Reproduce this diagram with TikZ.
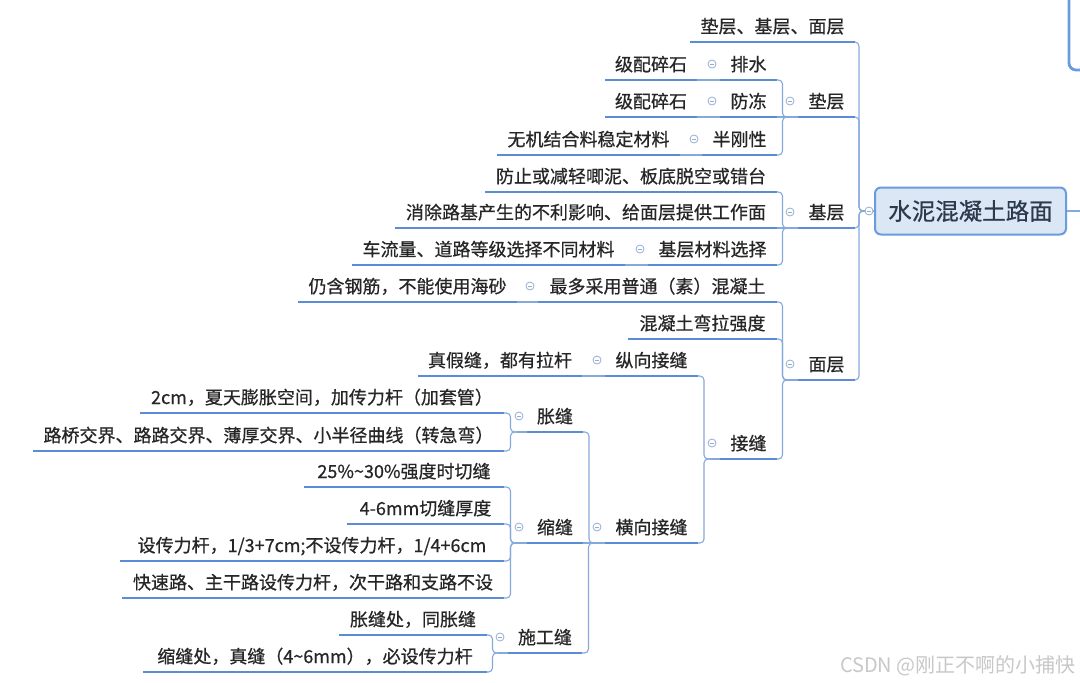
\documentclass[tikz,border=0pt]{standalone}
\usepackage{fontspec}
\setmainfont{Noto Sans CJK SC}[FakeBold=0.6]
\newfontfamily\wmfont{Noto Sans CJK SC}
\usetikzlibrary{calc}
\definecolor{txtc}{HTML}{262626}
\definecolor{ulc}{HTML}{5A8DD6}
\definecolor{conc}{HTML}{86A9DC}
\definecolor{foldcol}{HTML}{94AED2}
\definecolor{rootc}{HTML}{6A9BDD}
\definecolor{rootfill}{HTML}{DCE7F5}
\definecolor{roottxt}{HTML}{2B3A4C}
\definecolor{wmc}{HTML}{C8C8C8}
\newcommand\mmtopic[5]{%
  \coordinate (#1-l) at (#2,#4);
  \coordinate (#1-r) at (#3,#4);
  \coordinate (#1-j) at (#2-10,#4);
  \node[lbl] (#1) at ({(#2+#3)/2},{#4-9}) {#5};
  \draw[uline] (#1-l) -- (#1-r);}
\newcommand\mmlink[2]{\draw[conn,rounded corners=4pt] (#1-r) -| ($(#1-r)!0.5!(#2)$) |- (#2);}
\newcommand\mmslink[2]{\draw[conn] (#1-r) -- (#2);}
\newcommand\mmfold[1]{\node[foldc] at ($(#1-l)+(-8,-16)$) {};}
\begin{document}
\begin{tikzpicture}[x=1pt,y=-1pt,
  lbl/.style={anchor=base, inner sep=0pt, text=txtc, font=\fontsize{18pt}{20pt}\selectfont},
  uline/.style={draw=ulc, line width=2.7pt},
  conn/.style={draw=conc, line width=1.1pt},
  foldc/.style={circle, draw=foldcol, fill=white, line width=0.8pt, minimum size=8pt, inner sep=0pt,
    path picture={\draw[foldcol, line width=0.8pt] ([xshift=-2pt]path picture bounding box.center) -- ([xshift=2pt]path picture bounding box.center);}},
  rootbox/.style={draw=rootc, fill=rootfill, line width=2pt, rounded corners=6pt, inner sep=0pt,
    minimum width=191pt, minimum height=47pt, text=roottxt, font=\fontsize{23.5pt}{26pt}\selectfont}]
\useasboundingbox (0,0) rectangle (1080,683);
\clip (0,0) rectangle (1080,683);
\fill[white] (0,0) rectangle (1080,683);

% partial box at top right
\coordinate (pba) at (1069,-10);
\coordinate (pbb) at (1100,70);
\draw[draw=rootc, line width=2.8pt, rounded corners=7pt, fill=white] (pba) rectangle (pbb);

% root
\node[rootbox] (root) at (970.5,211) {水泥混凝土路面};
\coordinate (rout) at (1080,211);
\draw[conn] (root.east) -- (rout);
\coordinate (root-j) at (863,211);

% level 1
\mmtopic{t1}{690}{855}{42}{垫层、基层、面层}
\mmtopic{dc}{798}{855}{117}{垫层}
\mmtopic{jc}{798}{855}{228}{基层}
\mmtopic{mc}{798}{855}{380}{面层}

% 垫层
\mmtopic{ps}{720}{777}{80}{排水}
\mmtopic{gsa}{605}{697}{80}{级配碎石}
\mmtopic{fd}{720}{777}{117}{防冻}
\mmtopic{gsb}{605}{697}{117}{级配碎石}
\mmtopic{bgx}{702}{777}{155}{半刚性}
\mmtopic{wj}{497}{680}{155}{无机结合料稳定材料}

% 基层
\mmtopic{fz}{485}{777}{192}{防止或减轻唧泥、板底脱空或错台}
\mmtopic{xc}{395}{777}{228}{消除路基产生的不利影响、给面层提供工作面}
\mmtopic{jcxz}{648}{777}{265}{基层材料选择}
\mmtopic{cll}{352}{625}{265}{车流量、道路等级选择不同材料}

% 面层
\mmtopic{zd}{538}{777}{302}{最多采用普通（素）混凝土}
\mmtopic{rh}{298}{517}{302}{仍含钢筋，不能使用海砂}
\mmtopic{hnt}{628}{777}{339}{混凝土弯拉强度}
\mmtopic{jf}{720}{777}{459}{接缝}

% 接缝
\mmtopic{zx}{605}{698}{376}{纵向接缝}
\mmtopic{zj}{418}{582}{376}{真假缝，都有拉杆}
\mmtopic{hx}{605}{698}{543}{横向接缝}

% 横向接缝
\mmtopic{zf}{527}{583}{432}{胀缝}
\mmtopic{za}{140}{504}{413}{2cm，夏天膨胀空间，加传力杆（加套管）}
\mmtopic{zb}{33}{504}{451}{路桥交界、路路交界、薄厚交界、小半径曲线（转急弯）}
\mmtopic{ss}{527}{583}{543}{缩缝}
\mmtopic{sa}{304}{504}{487}{25\%\char"7E 30\%强度时切缝}
\mmtopic{sb}{347}{504}{524}{4-6mm切缝厚度}
\mmtopic{sc}{120}{504}{561}{设传力杆，1/3+7cm;不设传力杆，1/4+6cm}
\mmtopic{sd}{122}{504}{598}{快速路、主干路设传力杆，次干路和支路不设}
\mmtopic{sg}{508}{582}{653}{施工缝}
\mmtopic{ga}{339}{487}{635}{胀缝处，同胀缝}
\mmtopic{gb}{143}{487}{672}{缩缝处，真缝（4\char"7E 6mm），必设传力杆}

% connectors
\mmlink{t1}{root-j}
\mmlink{dc}{root-j}
\mmlink{jc}{root-j}
\mmlink{mc}{root-j}
\draw[conn] (root-j) -- (root.west);

\mmlink{ps}{dc-j}
\mmslink{fd}{dc-j}
\mmlink{bgx}{dc-j}
\draw[conn] (dc-j) -- (dc-l);
\mmslink{gsa}{ps-l}
\mmslink{gsb}{fd-l}
\mmslink{wj}{bgx-l}

\mmlink{fz}{jc-j}
\mmslink{xc}{jc-j}
\mmlink{jcxz}{jc-j}
\draw[conn] (jc-j) -- (jc-l);
\mmslink{cll}{jcxz-l}

\mmlink{zd}{mc-j}
\mmlink{hnt}{mc-j}
\mmlink{jf}{mc-j}
\draw[conn] (mc-j) -- (mc-l);
\mmslink{rh}{zd-l}

\mmlink{zx}{jf-j}
\mmlink{hx}{jf-j}
\draw[conn] (jf-j) -- (jf-l);
\mmslink{zj}{zx-l}

\mmlink{zf}{hx-j}
\mmslink{ss}{hx-j}
\mmlink{sg}{hx-j}
\draw[conn] (hx-j) -- (hx-l);

\mmlink{za}{zf-j}
\mmlink{zb}{zf-j}
\draw[conn] (zf-j) -- (zf-l);

\mmlink{sa}{ss-j}
\mmlink{sb}{ss-j}
\mmlink{sc}{ss-j}
\mmlink{sd}{ss-j}
\draw[conn] (ss-j) -- (ss-l);

\mmlink{ga}{sg-j}
\mmlink{gb}{sg-j}
\draw[conn] (sg-j) -- (sg-l);

% fold markers
\node[foldc] (rootfold) at (869,211) {};
\mmfold{dc}\mmfold{jc}\mmfold{mc}
\mmfold{ps}\mmfold{fd}\mmfold{bgx}
\mmfold{jcxz}\mmfold{zd}\mmfold{jf}
\mmfold{zx}\mmfold{hx}\mmfold{zf}\mmfold{ss}\mmfold{sg}

% watermark
\node[anchor=base east, inner sep=0pt, text=wmc, font=\wmfont\fontsize{20pt}{22pt}\selectfont] (wm) at (1076,672) {CSDN @刚正不啊的小捕快};
\end{tikzpicture}
\end{document}
